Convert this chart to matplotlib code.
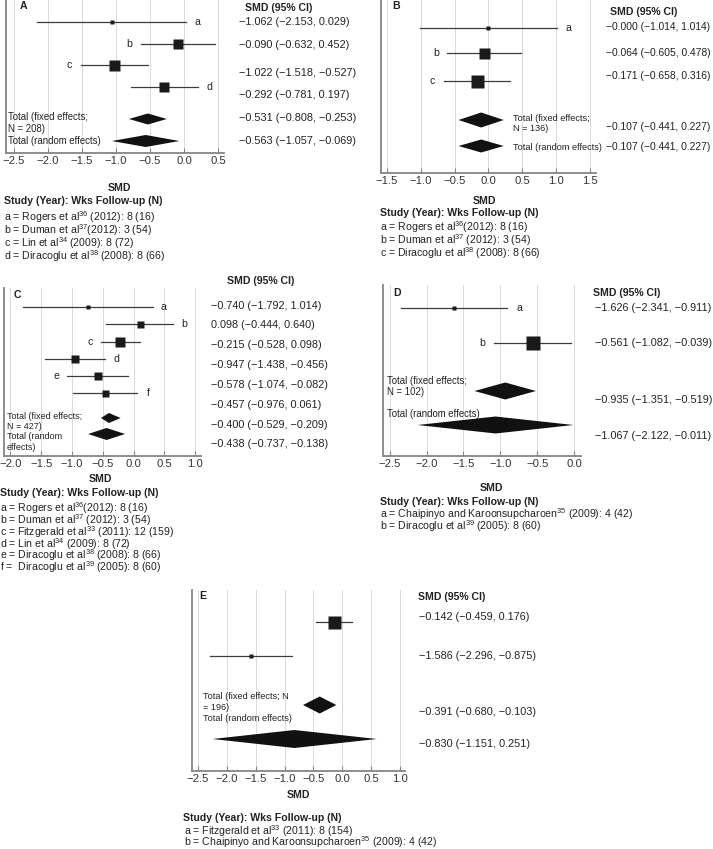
import numpy as np
import matplotlib
matplotlib.use('Agg')
from matplotlib import pyplot as plt
from matplotlib.font_manager import FontProperties

plt.rcParams['font.family'] = ['Liberation Sans', 'DejaVu Sans']
plt.rcParams['mathtext.fontset'] = 'custom'
plt.rcParams['mathtext.rm'] = 'Liberation Sans'
plt.rcParams['mathtext.it'] = 'Liberation Sans:italic'
plt.rcParams['mathtext.bf'] = 'Liberation Sans:bold'

# ---- data (SMD, 95% CI) ----
A_est = [-1.062, -0.090, -1.022, -0.292]
A_lo = [-2.153, -0.632, -1.518, -0.781]
A_hi = [0.029, 0.452, -0.527, 0.197]
A_fixed = [-0.531, -0.808, -0.253]
A_random = [-0.563, -1.057, -0.069]
A_letters = ['a', 'b', 'c', 'd']
A_ci = ['−1.062 (−2.153, 0.029)', '−0.090 (−0.632, 0.452)', '−1.022 (−1.518, −0.527)',
        '−0.292 (−0.781, 0.197)', '−0.531 (−0.808, −0.253)', '−0.563 (−1.057, −0.069)']
A_studies = ['a = Rogers et al$^{36}$ (2012): 8 (16)',
             'b = Duman et al$^{37}$(2012): 3 (54)',
             'c = Lin et al$^{34}$ (2009): 8 (72)',
             'd = Diracoglu et al$^{38}$ (2008): 8 (66)']

B_est = [-0.000, -0.064, -0.171]
B_lo = [-1.014, -0.605, -0.658]
B_hi = [1.014, 0.478, 0.316]
B_fixed = [-0.107, -0.441, 0.227]
B_random = [-0.107, -0.441, 0.227]
B_letters = ['a', 'b', 'c']
B_ci = ['−0.000 (−1.014, 1.014)', '−0.064 (−0.605, 0.478)', '−0.171 (−0.658, 0.316)',
        '−0.107 (−0.441, 0.227)', '−0.107 (−0.441, 0.227)']
B_studies = ['a = Rogers et al$^{36}$(2012): 8 (16)',
             'b = Duman et al$^{37}$ (2012): 3 (54)',
             'c = Diracoglu et al$^{38}$ (2008): 8 (66)']

C_est = [-0.740, 0.098, -0.215, -0.947, -0.578, -0.457]
C_lo = [-1.792, -0.444, -0.528, -1.438, -1.074, -0.976]
C_hi = [0.312, 0.640, 0.098, -0.456, -0.082, 0.061]
C_fixed = [-0.400, -0.529, -0.209]
C_random = [-0.438, -0.737, -0.138]
C_letters = ['a', 'b', 'c', 'd', 'e', 'f']
C_ci = ['−0.740 (−1.792, 1.014)', '0.098 (−0.444, 0.640)', '−0.215 (−0.528, 0.098)',
        '−0.947 (−1.438, −0.456)', '−0.578 (−1.074, −0.082)', '−0.457 (−0.976, 0.061)',
        '−0.400 (−0.529, −0.209)', '−0.438 (−0.737, −0.138)']
C_studies = ['a = Rogers et al$^{36}$(2012): 8 (16)',
             'b = Duman et al$^{37}$ (2012): 3 (54)',
             'c = Fitzgerald et al$^{33}$ (2011): 12 (159)',
             'd = Lin et al$^{34}$ (2009): 8 (72)',
             'e = Diracoglu et al$^{38}$ (2008): 8 (66)',
             'f =  Diracoglu et al$^{39}$ (2005): 8 (60)']

D_est = [-1.626, -0.561]
D_lo = [-2.341, -1.082]
D_hi = [-0.911, -0.039]
D_fixed = [-0.935, -1.351, -0.519]
D_random = [-1.067, -2.122, -0.011]
D_letters = ['a', 'b']
D_ci = ['−1.626 (−2.341, −0.911)', '−0.561 (−1.082, −0.039)',
        '−0.935 (−1.351, −0.519)', '−1.067 (−2.122, −0.011)']
D_studies = ['a = Chaipinyo and Karoonsupcharoen$^{35}$ (2009): 4 (42)',
             'b = Diracoglu et al$^{39}$ (2005): 8 (60)']

E_est = [-0.142, -1.586]
E_lo = [-0.459, -2.296]
E_hi = [0.176, -0.875]
E_fixed = [-0.391, -0.680, -0.103]
E_random = [-0.830, -2.250, 0.600]
E_ci = ['−0.142 (−0.459, 0.176)', '−1.586 (−2.296, −0.875)',
        '−0.391 (−0.680, −0.103)', '−0.830 (−1.151, 0.251)']
E_studies = ['a = Fitzgerald et al$^{33}$ (2011): 8 (154)',
             'b = Chaipinyo and Karoonsupcharoen$^{35}$ (2009): 4 (42)']

W, H = 713, 849
fig = plt.figure(figsize=(W / 100, H / 100), dpi=100)
renderer = fig.canvas.get_renderer()
FS = 7.6      # headers, row letters
FS_TICK = 8.1
FS_CI = 7.8   # right-hand SMD (95% CI) column
FS_LEG = 7.6  # study legend
GRAY = '#858585'
INK = '#222222'


def ftext(x, y, s, **kw):
    # text placed in figure pixels, measured from the top left
    kw.setdefault('fontsize', FS)
    kw.setdefault('va', 'center')
    kw.setdefault('color', INK)
    fig.text(x / W, 1 - y / H, s, **kw)


def block(x, y0, lines, size, step):
    # several lines in one text object; y0 = middle of the first line, step = px between lines
    fp = FontProperties(family=plt.rcParams['font.family'], size=size)
    _, lh, ld = renderer.get_text_width_height_descent('lp', fp, ismath=False)
    nets, descs = [], []
    for ln in lines:
        _, h, d = renderer.get_text_width_height_descent(ln, fp, ismath='$' in ln)
        nets.append(max(h, lh) - max(d, ld))
        descs.append(max(d, ld))
    # matplotlib puts baselines d_prev + linespacing * net apart
    ls = (step - max(descs)) / max(max(nets), lh - ld)
    base0 = y0 + 0.3 * size * 100 / 72
    top = base0 - nets[0]
    fig.text(x / W, 1 - top / H, '\n'.join(lines), fontsize=size, va='top',
             linespacing=ls, color=INK)


def panel(box, xlim, ticks):
    left, top, right, bottom = box
    ax = fig.add_axes([left / W, 1 - bottom / H, (right - left) / W, (bottom - top) / H])
    ax.set_xlim(xlim)
    ax.set_ylim(bottom, top)
    ax.set_xticks(ticks)
    ax.set_xticklabels(['%.1f' % t if t >= 0 else '−%.1f' % abs(t) for t in ticks])
    ax.set_yticks([])
    for s in ['top', 'right']:
        ax.spines[s].set_visible(False)
    for s in ['left', 'bottom']:
        ax.spines[s].set_color(GRAY)
        ax.spines[s].set_linewidth(1.3)
    ax.tick_params(axis='x', direction='in', length=3.5, width=0.8, color=GRAY,
                   labelsize=FS_TICK, labelcolor='#333333', pad=2.5)
    for t in ticks:
        ax.axvline(t, color='#dadada', lw=0.7, zorder=0)
    return ax


def studies(ax, est, lo, hi, rows, sizes, letters=None, sides=None, off=11.5):
    for i in range(len(est)):
        ax.plot([lo[i], hi[i]], [rows[i], rows[i]], color='#3c3c3c', lw=0.9, zorder=2)
        ax.plot(est[i], rows[i], marker='s', ms=sizes[i] * 0.72, color='#1a1a1a',
                mec='none', zorder=3)
        if letters:
            if sides[i] == 'r':
                x, dx = hi[i], off
            else:
                x, dx = lo[i], -off
            ax.annotate(letters[i], (x, rows[i]), xytext=(dx * 0.72, 0),
                        textcoords='offset points', ha='center', va='center',
                        fontsize=FS, color=INK)


def diamond(ax, vals, y, h):
    mid, lo, hi = vals
    ax.fill([lo, mid, hi, mid], [y, y - h / 2, y, y + h / 2], color='#111111', lw=0, zorder=3)


# ---- Panel A ----
ax = panel((6, 0, 224, 153), (-2.61, 0.585), np.arange(-2.5, 0.51, 0.5))
studies(ax, A_est, A_lo, A_hi, [22, 44, 65, 87], [4, 10, 11, 10], A_letters, ['r', 'l', 'l', 'r'])
diamond(ax, A_fixed, 119, 11)
diamond(ax, A_random, 141, 12)
ftext(20, 6, 'A', fontweight='bold')
block(8, 117, ['Total (fixed effects;', 'N = 208)', 'Total (random effects)'], 6.9, 12)
ftext(245, 8, 'SMD (95% CI)', fontweight='bold')
for s, y in zip(A_ci, [22, 45, 73, 95, 118, 141]):
    ftext(239, y, s, fontsize=FS_CI)
ftext(119, 188, 'SMD', fontweight='bold', ha='center')
ftext(4, 201, 'Study (Year): Wks Follow-up (N)', fontweight='bold')
block(4, 218, A_studies, FS_LEG, 13)

# ---- Panel B ----
ax = panel((381, 0, 596, 173), (-1.589, 1.593), np.arange(-1.5, 1.51, 0.5))
studies(ax, B_est, B_lo, B_hi, [28, 53, 81], [4, 11, 13], B_letters, ['r', 'l', 'l'])
diamond(ax, B_fixed, 120, 15)
diamond(ax, B_random, 146, 13)
ftext(392, 6, 'B', fontweight='bold')
block(513, 118, ['Total (fixed effects;', 'N = 136)'], 6.6, 10)
ftext(513, 147, 'Total (random effects)', fontsize=6.6)
ftext(610, 12, 'SMD (95% CI)', fontweight='bold')
for s, y in zip(B_ci, [27, 53, 76, 127, 147]):
    ftext(606, y, s, fontsize=7.4)
ftext(484, 201, 'SMD', fontweight='bold', ha='center')
ftext(380, 213, 'Study (Year): Wks Follow-up (N)', fontweight='bold')
block(380, 228, B_studies, FS_LEG, 13)

# ---- Panel C ----
ax = panel((4, 288, 201, 456), (-2.105, 1.097), np.arange(-2.0, 1.01, 0.5))
studies(ax, C_est, C_lo, C_hi, [307, 324, 342, 359, 376, 393], [3.5, 7, 10, 7.5, 7.5, 7],
        C_letters, ['r', 'r', 'l', 'r', 'l', 'r'], off=11)
diamond(ax, C_fixed, 418, 10)
diamond(ax, C_random, 434, 12)
ftext(14, 295, 'C', fontweight='bold')
block(7, 416, ['Total (fixed effects;', 'N = 427)', 'Total (random', 'effects)'], 6.5, 10.3)
ftext(227, 281, 'SMD (95% CI)', fontweight='bold')
for s, y in zip(C_ci, [306, 325, 345, 365, 385, 405, 425, 444]):
    ftext(211, y, s, fontsize=FS_CI)
ftext(100, 479, 'SMD', fontweight='bold', ha='center')
ftext(0, 493, 'Study (Year): Wks Follow-up (N)', fontweight='bold')
block(0, 509, C_studies, FS_LEG, 11.8)

# ---- Panel D ----
ax = panel((383, 285, 581, 456), (-2.589, 0.09), np.arange(-2.5, 0.01, 0.5))
studies(ax, D_est, D_lo, D_hi, [308, 343], [4, 14], D_letters, ['r', 'l'], off=12.5)
diamond(ax, D_fixed, 391, 17)
diamond(ax, D_random, 425, 17)
ftext(393, 293, 'D', fontweight='bold')
block(387, 381, ['Total (fixed effects;', 'N = 102)'], 6.9, 11)
ftext(387, 414, 'Total (random effects)', fontsize=6.9)
ftext(593, 293, 'SMD (95% CI)', fontweight='bold')
for s, y in zip(D_ci, [308, 343, 400, 436]):
    ftext(595, y, s, fontsize=FS_CI)
ftext(491, 488, 'SMD', fontweight='bold', ha='center')
ftext(380, 502, 'Study (Year): Wks Follow-up (N)', fontweight='bold')
block(380, 515, D_studies, FS_LEG, 12)

# ---- Panel E ----
ax = panel((192, 590, 405, 771), (-2.604, 1.087), np.arange(-2.5, 1.01, 0.5))
studies(ax, E_est, E_lo, E_hi, [622, 656], [13, 4])
diamond(ax, E_fixed, 705, 17)
diamond(ax, E_random, 739, 18)
ftext(199, 596, 'E', fontweight='bold')
block(203, 696, ['Total (fixed effects; N', '= 196)', 'Total (random effects)'], 6.6, 11)
ftext(418, 597, 'SMD (95% CI)', fontweight='bold')
for s, y in zip(E_ci, [617, 656, 712, 744]):
    ftext(419, y, s, fontsize=FS_CI)
ftext(298, 795, 'SMD', fontweight='bold', ha='center')
ftext(183, 818, 'Study (Year): Wks Follow-up (N)', fontweight='bold')
block(184, 832, E_studies, FS_LEG, 11)

fig.savefig('out.png', dpi=100)
